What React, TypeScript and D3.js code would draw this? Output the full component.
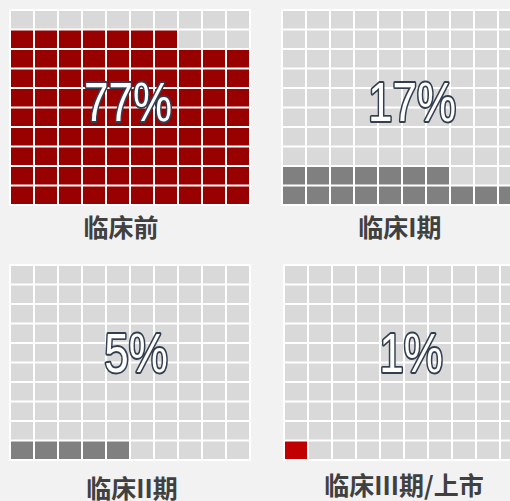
import React from 'react';
import * as d3 from 'd3';

const stages = ['临床前', '临床I期', '临床II期', '临床III期/上市'];
const percents = [77, 17, 5, 1];
// squares coloured in each 10x10 grid, as drawn in the picture
const filledCells = [87, 17, 5, 1];
const fillColors = ['#990000', '#808080', '#808080', '#c00000'];

// panel origins (left/top of the white background) and text anchors
const panels = [
  { x: 9, y: 9, tx: 128, ty: 101, lx: 121, ly: 237 },
  { x: 281, y: 9, tx: 412, ty: 101, lx: 400, ly: 237 },
  { x: 9, y: 264, tx: 136, ty: 352, lx: 132, ly: 498 },
  { x: 283, y: 264, tx: 411, ty: 352, lx: 404, ly: 495 },
];

const W = 510;
const H = 501;

const App: React.FC = () => {
  const idx = d3.range(10);

  return (
    <div style={{ position: 'fixed', left: 0, top: 0 }}>
      <svg width={W} height={H} style={{ display: 'block', background: '#f2f2f2' }}>
        {stages.map((stage, i) => {
          const p = panels[i];
          const x = d3.scaleBand<number>().domain(idx).range([p.x + 2, p.x + 240]).paddingInner(2 / 24);
          const y = d3.scaleBand<number>().domain(idx).range([p.y + 2, p.y + 195]).paddingInner(2 / 19.4);
          const cells = d3.range(100).map(k => ({
            col: k % 10,
            row: 9 - Math.floor(k / 10),
            on: k < filledCells[i],
          }));
          return (
            <g key={stage}>
              <rect x={p.x} y={p.y} width={242} height={197} fill="#ffffff" />
              {cells.map((c, k) => (
                <rect
                  key={k}
                  x={x(c.col)}
                  y={y(c.row)}
                  width={x.bandwidth()}
                  height={y.bandwidth()}
                  fill={c.on ? fillColors[i] : '#d9d9d9'}
                />
              ))}
              <g transform={`translate(${p.tx},${p.ty}) scale(1,1.25)`}>
                <text
                  textAnchor="middle"
                  dy="0.36em"
                  fontFamily="'Liberation Sans', Arial, sans-serif"
                  fontSize={44}
                  fill="#ffffff"
                  stroke="#333f50"
                  strokeWidth={3}
                  strokeLinejoin="round"
                  paintOrder="stroke"
                >
                  {percents[i]}%
                </text>
              </g>
              <text
                x={p.lx}
                y={p.ly}
                textAnchor="middle"
                fontFamily="'Noto Sans CJK SC', 'Noto Sans', sans-serif"
                fontWeight="bold"
                fontSize={25}
                fill="#404040"
              >
                {stage}
              </text>
            </g>
          );
        })}
      </svg>
    </div>
  );
};

export default App;
